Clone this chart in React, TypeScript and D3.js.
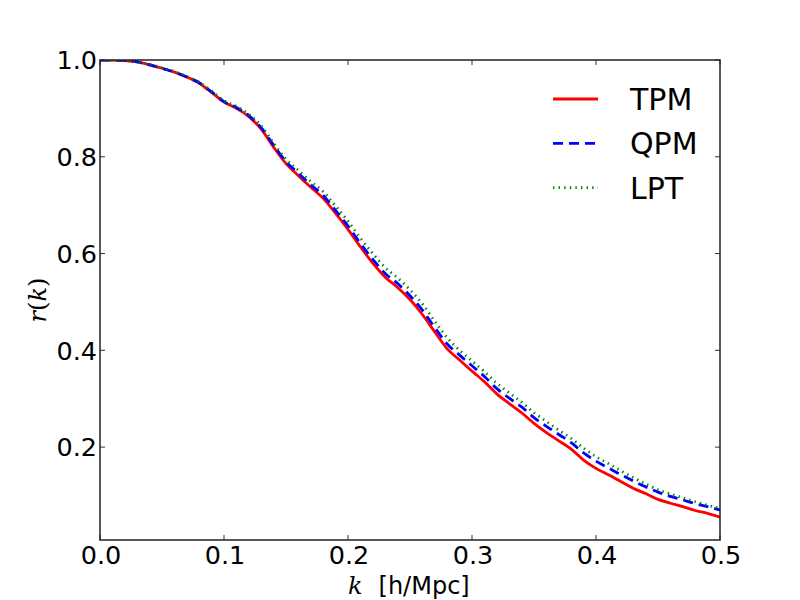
import * as d3 from 'd3'

// wavenumber bins, h/Mpc
const kValues = [
  0.0, 0.01, 0.02, 0.03, 0.04, 0.05, 0.06, 0.07, 0.08, 0.09,
  0.1, 0.11, 0.12, 0.13, 0.14, 0.15, 0.16, 0.17, 0.18, 0.19,
  0.2, 0.21, 0.22, 0.23, 0.24, 0.25, 0.26, 0.27, 0.28, 0.29,
  0.3, 0.31, 0.32, 0.33, 0.34, 0.35, 0.36, 0.37, 0.38, 0.39,
  0.4, 0.41, 0.42, 0.43, 0.44, 0.45, 0.46, 0.47, 0.48, 0.49, 0.5,
]

const tpm = [
  1.0, 1.0, 0.999, 0.996, 0.99, 0.983, 0.975, 0.965, 0.952, 0.933,
  0.913, 0.9, 0.883, 0.857, 0.82, 0.786, 0.761, 0.737, 0.714, 0.683,
  0.65, 0.614, 0.58, 0.551, 0.53, 0.505, 0.474, 0.438, 0.403, 0.38,
  0.357, 0.335, 0.31, 0.29, 0.271, 0.249, 0.23, 0.213, 0.196, 0.173,
  0.156, 0.143, 0.129, 0.115, 0.104, 0.092, 0.084, 0.077, 0.069, 0.063, 0.055,
]

const qpm = [
  1.0, 1.0, 0.999, 0.996, 0.99, 0.983, 0.975, 0.965, 0.953, 0.934,
  0.914, 0.902, 0.885, 0.86, 0.824, 0.79, 0.766, 0.742, 0.72, 0.689,
  0.657, 0.621, 0.588, 0.559, 0.538, 0.513, 0.483, 0.447, 0.413, 0.39,
  0.368, 0.346, 0.321, 0.301, 0.283, 0.261, 0.243, 0.226, 0.209, 0.188,
  0.171, 0.157, 0.143, 0.13, 0.118, 0.107, 0.098, 0.091, 0.083, 0.077, 0.07,
]

const lpt = [
  1.0, 1.0, 0.999, 0.996, 0.991, 0.984, 0.976, 0.966, 0.954, 0.936,
  0.916, 0.904, 0.888, 0.864, 0.828, 0.795, 0.772, 0.749, 0.728, 0.698,
  0.667, 0.632, 0.6, 0.571, 0.55, 0.525, 0.496, 0.46, 0.426, 0.4,
  0.378, 0.356, 0.332, 0.312, 0.293, 0.271, 0.253, 0.235, 0.218, 0.198,
  0.18, 0.166, 0.151, 0.137, 0.124, 0.112, 0.103, 0.095, 0.087, 0.08, 0.073,
]

const seriesNames = ['TPM', 'QPM', 'LPT']
const xTicks = [0.0, 0.1, 0.2, 0.3, 0.4, 0.5]
const yTicks = [0.2, 0.4, 0.6, 0.8, 1.0]

const styles: Record<string, { color: string; width: number; dash?: string }> = {
  TPM: { color: '#ff0000', width: 2.8 },
  QPM: { color: '#0000ff', width: 2.8, dash: '10 6' },
  LPT: { color: '#008000', width: 2.8, dash: '1.4 4.2' },
}

const W = 800
const H = 600
const margin = { top: 60, right: 80, bottom: 60, left: 100 }
const font = '"DejaVu Sans", sans-serif'
const mathFont = '"DejaVu Serif", serif'

export default function App() {
  const x = d3.scaleLinear().domain([0, 0.5]).range([margin.left, W - margin.right])
  const y = d3.scaleLinear().domain([0.008, 1.0]).range([H - margin.bottom, margin.top])
  const [x0, x1] = x.range()
  const [y0, y1] = y.range()

  const series = [
    { name: 'TPM', values: tpm },
    { name: 'QPM', values: qpm },
    { name: 'LPT', values: lpt },
  ]

  const line = d3
    .line<number>()
    .x((_, i) => x(kValues[i]))
    .y((d) => y(d))
    .curve(d3.curveMonotoneX)

  const tickLen = 5
  const fmt = d3.format('.1f')

  return (
    <svg
      width={W}
      height={H}
      style={{ position: 'absolute', left: 0, top: 0, background: '#fff' }}
    >
      <defs>
        <clipPath id="plot-clip">
          <rect x={x0} y={y1} width={x1 - x0} height={y0 - y1} />
        </clipPath>
      </defs>

      {/* curves */}
      <g clipPath="url(#plot-clip)">
        {series.map((s) => (
          <path
            key={s.name}
            d={line(s.values) ?? ''}
            fill="none"
            stroke={styles[s.name].color}
            strokeWidth={styles[s.name].width}
            strokeDasharray={styles[s.name].dash}
          />
        ))}
      </g>

      {/* ticks, inside on all four sides */}
      <g stroke="#333" strokeWidth={1}>
        {xTicks.map((t) => (
          <g key={'xt' + t}>
            <line x1={x(t)} x2={x(t)} y1={y0} y2={y0 - tickLen} />
            <line x1={x(t)} x2={x(t)} y1={y1} y2={y1 + tickLen} />
          </g>
        ))}
        {yTicks.map((t) => (
          <g key={'yt' + t}>
            <line x1={x0} x2={x0 + tickLen} y1={y(t)} y2={y(t)} />
            <line x1={x1} x2={x1 - tickLen} y1={y(t)} y2={y(t)} />
          </g>
        ))}
      </g>

      {/* frame */}
      <rect
        x={x0}
        y={y1}
        width={x1 - x0}
        height={y0 - y1}
        fill="none"
        stroke="#222"
        strokeWidth={1.5}
      />

      {/* tick labels */}
      <g fontFamily={font} fontSize={25.5} fill="#000">
        {xTicks.map((t) => (
          <text key={'xl' + t} x={x(t) + 1} y={y0 + 24} textAnchor="middle">
            {fmt(t)}
          </text>
        ))}
        {yTicks.map((t) => (
          <text key={'yl' + t} x={x0 - 3} y={y(t)} dy="0.36em" textAnchor="end">
            {fmt(t)}
          </text>
        ))}
      </g>

      {/* axis labels */}
      <text x={348} y={594} fontSize={24} fill="#000">
        <tspan fontFamily={mathFont} fontStyle="italic">k</tspan>
        <tspan fontFamily={font} dx={16}>[h/Mpc]</tspan>
      </text>
      <text
        transform={`translate(46,${(y0 + y1) / 2}) rotate(-90)`}
        textAnchor="middle"
        fontSize={24}
        fill="#000"
        fontFamily={mathFont}
      >
        <tspan fontStyle="italic">r</tspan>
        <tspan>(</tspan>
        <tspan fontStyle="italic">k</tspan>
        <tspan>)</tspan>
      </text>

      {/* legend */}
      <g>
        {seriesNames.map((name, i) => {
          const base = 110 + i * 44.3
          return (
            <g key={'lg' + name}>
              <line
                x1={553}
                x2={598}
                y1={base - 11}
                y2={base - 11}
                stroke={styles[name].color}
                strokeWidth={styles[name].width}
                strokeDasharray={styles[name].dash}
              />
              <text x={630} y={base} fontFamily={font} fontSize={30} fill="#000">
                {name}
              </text>
            </g>
          )
        })}
      </g>
    </svg>
  )
}
